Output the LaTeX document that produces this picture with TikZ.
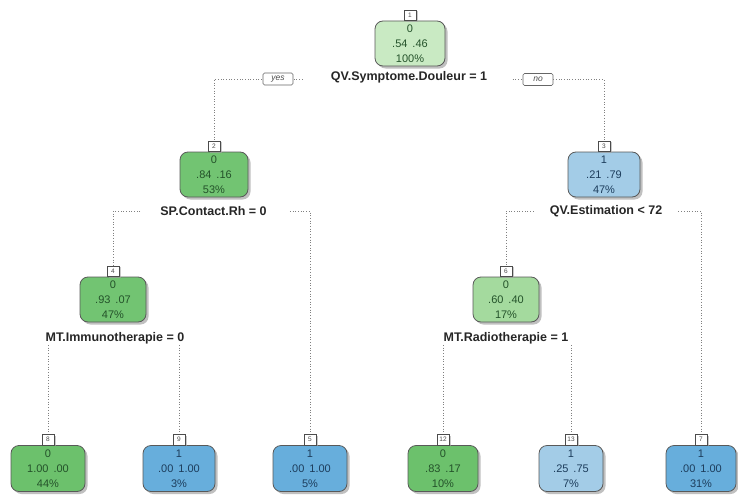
\documentclass[tikz,border=0pt]{standalone}
\usepackage{fontspec}
\setmainfont{Liberation Sans}
\usetikzlibrary{shadows,backgrounds}

\definecolor{gPale}{HTML}{C9EAC3}
\definecolor{gLight}{HTML}{A4DA9E}
\definecolor{gMid}{HTML}{72C472}
\definecolor{gLeaf}{HTML}{6CC16C}
\definecolor{bLight}{HTML}{A3CCE7}
\definecolor{bLeaf}{HTML}{67AEDC}
\definecolor{gText}{HTML}{24522A}
\definecolor{bText}{HTML}{1D3D5C}

% gap between the two class probabilities
\newcommand{\pgap}{\hspace{0.45em}}

\tikzset{
  treebox/.style={draw=black!65, line width=0.8pt, rounded corners=8pt,
    minimum height=45pt, inner sep=0pt, align=center,
    font=\fontsize{11}{15}\selectfont,
    drop shadow={shadow xshift=2.5pt, shadow yshift=-2.5pt, fill=black!45, opacity=0.55}},
  greenbox/.style={treebox, text=gText},
  bluebox/.style={treebox, text=bText},
  tagbox/.style={draw=black!70, fill=white, line width=0.5pt, anchor=south,
    minimum width=12pt, minimum height=10.5pt, inner sep=0pt,
    font=\fontsize{6.5}{6.5}\selectfont, text=black!70,
    drop shadow={shadow xshift=2pt, shadow yshift=-1.5pt, fill=black!35, opacity=0.6}},
  splitlabel/.style={font=\fontsize{12.5}{14}\selectfont\bfseries, text=black!85, inner sep=1pt},
  branch/.style={draw=black!50, dotted, line width=0.7pt},
  yesno/.style={draw=black!60, fill=white, rounded corners=1.5pt, line width=0.6pt,
    minimum width=30pt, minimum height=12pt, inner sep=0pt,
    font=\fontsize{8.5}{8.5}\selectfont\itshape, text=black!70}
}

\begin{document}
\begin{tikzpicture}[x=1pt,y=-1pt]
\useasboundingbox (0,0) rectangle (738,495);

% root
\node[greenbox, fill=gPale, minimum width=70pt] (n1) at (410,43.5) {0\\.54\pgap.46\\100\%};
\node[tagbox] (t1) at (n1.north) {1};
\node[splitlabel] (s1) at (409,77) {QV.Symptome.Douleur = 1};
\node[yesno] (yes) at (278,79) {yes};
\node[yesno] (no) at (538,79.5) {no};

% first level
\node[greenbox, fill=gMid, minimum width=68pt] (n2) at (214,174.5) {0\\.84\pgap.16\\53\%};
\node[tagbox] (t2) at (n2.north) {2};
\node[splitlabel] (s2) at (213.5,211) {SP.Contact.Rh = 0};

\node[bluebox, fill=bLight, minimum width=72pt] (n3) at (604,174.5) {1\\.21\pgap.79\\47\%};
\node[tagbox] (t3) at (n3.north) {3};
\node[splitlabel] (s3) at (606,211) {QV.Estimation < 72};

% second level
\node[greenbox, fill=gMid, minimum width=66pt] (n4) at (113,299.5) {0\\.93\pgap.07\\47\%};
\node[tagbox] (t4) at (n4.north) {4};
\node[splitlabel] (s4) at (115,338) {MT.Immunotherapie = 0};

\node[greenbox, fill=gLight, minimum width=66pt] (n6) at (506,299.5) {0\\.60\pgap.40\\17\%};
\node[tagbox] (t6) at (n6.north) {6};
\node[splitlabel] (s6) at (506,338) {MT.Radiotherapie = 1};

% leaves
\node[greenbox, fill=gLeaf, minimum width=74pt, minimum height=46pt] (n8) at (48,468.5) {0\\1.00\pgap.00\\44\%};
\node[tagbox] (t8) at (n8.north) {8};
\node[bluebox, fill=bLeaf, minimum width=72pt, minimum height=46pt] (n9) at (179,468.5) {1\\.00\pgap1.00\\3\%};
\node[tagbox] (t9) at (n9.north) {9};
\node[bluebox, fill=bLeaf, minimum width=74pt, minimum height=46pt] (n5) at (310,468.5) {1\\.00\pgap1.00\\5\%};
\node[tagbox] (t5) at (n5.north) {5};
\node[greenbox, fill=gLeaf, minimum width=70pt, minimum height=46pt] (n12) at (443,468.5) {0\\.83\pgap.17\\10\%};
\node[tagbox] (t12) at (n12.north) {12};
\node[bluebox, fill=bLight, minimum width=64pt, minimum height=46pt] (n13) at (571,468.5) {1\\.25\pgap.75\\7\%};
\node[tagbox] (t13) at (n13.north) {13};
\node[bluebox, fill=bLeaf, minimum width=70pt, minimum height=46pt] (n7) at (701,468.5) {1\\.00\pgap1.00\\31\%};
\node[tagbox] (t7) at (n7.north) {7};

% branches, drawn underneath the boxes and labels
\begin{scope}[on background layer]
  \draw[branch] ([xshift=9pt]yes.east) -| (t2.north);
  \draw[branch] ([xshift=-10pt]no.west) -| (t3.north);
  \draw[branch] ([xshift=-19pt]s2.west) -| (t4.north);
  \draw[branch] ([xshift=22pt]s2.east) -| (t5.north);
  \draw[branch] ([xshift=-15pt]s3.west) -| (t6.north);
  \draw[branch] ([xshift=15pt]s3.east) -| (t7.north);
  \draw[branch] (s4.south -| t8.north) -- (t8.north);
  \draw[branch] (s4.south -| t9.north) -- (t9.north);
  \draw[branch] (s6.south -| t12.north) -- (t12.north);
  \draw[branch] (s6.south -| t13.north) -- (t13.north);
\end{scope}
\end{tikzpicture}
\end{document}
